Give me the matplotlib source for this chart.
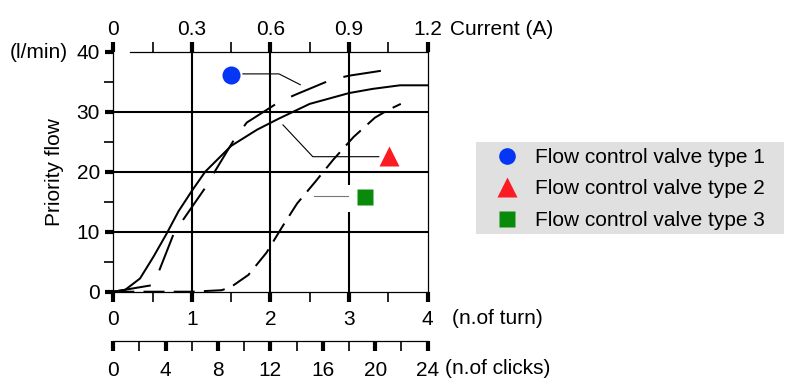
import numpy as np
import matplotlib.pyplot as plt
from matplotlib.lines import Line2D
from matplotlib.patches import Rectangle

plt.rcParams['font.family'] = ['Liberation Sans', 'DejaVu Sans']
plt.rcParams['font.size'] = 15

# flow curves: x = number of turns, y = priority flow (l/min)
turns_1 = [0, 0.5, 0.59, 0.77, 0.9, 1.18, 1.3, 1.55, 1.7, 2.12, 2.33, 2.77, 3.0, 3.5]
flow_1 = [0, 1.1, 3.7, 9.7, 12.2, 17.5, 20.2, 25.6, 28.2, 31.7, 32.9, 35.3, 36.0, 37.0]

turns_2 = [0, 0.15, 0.34, 0.51, 0.68, 0.83, 1.0, 1.17, 1.5, 1.83, 2.1, 2.5, 3.0, 3.3, 3.65, 4.0]
flow_2 = [0, 0.3, 2.2, 5.8, 9.7, 13.4, 16.8, 20.0, 24.3, 27.0, 28.8, 31.3, 33.1, 33.8, 34.4, 34.4]

turns_3 = [0, 1.0, 1.38, 1.5, 1.72, 1.95, 2.15, 2.34, 2.57, 2.8, 3.06, 3.33, 3.5, 3.66]
flow_3 = [0, 0, 0.25, 0.8, 2.8, 6.5, 10.8, 14.7, 18.3, 22.0, 25.8, 29.0, 30.3, 31.3]

labels = ['Flow control valve type 1', 'Flow control valve type 2', 'Flow control valve type 3']
colors = ['#0536f5', '#fa1b23', '#0a8a0a']
markers = ['o', '^', 's']
marker_turns = [1.50, 3.51, 3.21]
marker_flow = [36.1, 22.6, 15.8]

# leader lines from markers to curves
leader_turns = [[1.65, 2.11, 2.38], [3.38, 2.54, 2.16], [2.55, 2.99]]
leader_flow = [[36.3, 36.3, 34.5], [22.5, 22.5, 27.8], [16.0, 16.0]]
leader_colors = ['black', 'black', '#777777']

W, H = 792, 379
fig = plt.figure(figsize=(W / 100, H / 100), dpi=100)
ax = fig.add_axes([113.3 / W, 1 - 291.7 / H, 314.2 / W, 240 / H])

ax.set_xlim(0, 4)
ax.set_ylim(0, 40)

# grid
for g in [1, 2, 3]:
    ax.axvline(g, color='black', lw=1.5, zorder=1)
for g in [10, 20, 30]:
    ax.axhline(g, color='black', lw=1.5, zorder=1)

# white gap behind the type 3 marker
ax.add_patch(Rectangle((2.96, 13.3), 0.08, 4.5, facecolor='white', edgecolor='none', zorder=1.5))

ax.plot(turns_1, flow_1, color='black', lw=1.44, ls=(0, (19, 9)), clip_on=False, zorder=3)
ax.plot(turns_2, flow_2, color='black', lw=1.44, ls='-', clip_on=False, zorder=3)
ax.plot(turns_3, flow_3, color='black', lw=1.44, ls=(0, (10.5, 4.6)), clip_on=False, zorder=3)

for lx, ly, lc in zip(leader_turns, leader_flow, leader_colors):
    ax.plot(lx, ly, color=lc, lw=0.8, zorder=3)

sizes = [13, 14.4, 11.5]
for mx, my, m, c, s in zip(marker_turns, marker_flow, markers, colors, sizes):
    ax.plot(mx, my, marker=m, color=c, ms=s, mec='none', ls='none', zorder=4)

# spines
for s in ['left', 'right', 'bottom']:
    ax.spines[s].set_linewidth(0.9)
ax.spines['top'].set_visible(False)

ax.set_xticks([0, 1, 2, 3, 4])
ax.set_xticks(np.arange(0.5, 4, 1.0), minor=True)
ax.set_yticks([0, 10, 20, 30, 40])
ax.set_yticks([5, 15, 25, 35], minor=True)
ax.tick_params(axis='x', which='major', direction='out', length=7.2, width=3, pad=6)
ax.tick_params(axis='x', which='minor', direction='out', length=7.2, width=1.2)
ax.tick_params(axis='y', which='major', direction='out', length=6, width=3, pad=3.6)
ax.tick_params(axis='y', which='minor', direction='out', length=6.5, width=1.2)

# top axis: current
top = ax.secondary_xaxis('top', functions=(lambda t: t * 0.3, lambda c: c / 0.3))
top.set_xticks([0, 0.3, 0.6, 0.9, 1.2], ['0', '0.3', '0.6', '0.9', '1.2'])
top.set_xticks(np.arange(0.15, 1.2, 0.3), minor=True)
top.tick_params(which='major', direction='out', length=7.2, width=3, pad=2.3)
top.tick_params(which='minor', direction='out', length=7.2, width=1.2)
top.spines['top'].set_linewidth(0.9)
top.spines['top'].set_bounds(0.064, 1.2)

# lower axis: clicks
clicks = ax.secondary_xaxis(-0.2054, functions=(lambda t: t * 6, lambda c: c / 6))
clicks.set_xticks([0, 4, 8, 12, 16, 20, 24])
clicks.set_xticks([2, 6, 10, 14, 18, 22], minor=True)
clicks.tick_params(which='major', direction='out', length=7.2, width=3, pad=7)
clicks.tick_params(which='minor', direction='out', length=7.2, width=1.2)
clicks.spines['bottom'].set_linewidth(0.9)

fig.text(10 / W, 1 - 52 / H, '(l/min)', ha='left', va='center')
fig.text(55 / W, 1 - 172 / H, 'Priority flow', rotation=90, ha='center', va='center')
fig.text(450 / W, 1 - 29.5 / H, 'Current (A)', ha='left', va='center')
fig.text(451.7 / W, 1 - 319 / H, '(n.of turn)', ha='left', va='center')
fig.text(445 / W, 1 - 369 / H, '(n.of clicks)', ha='left', va='center')

# legend on a grey panel
fig.patches.append(Rectangle((476 / W, 1 - 234 / H), 308 / W, 92 / H, transform=fig.transFigure,
                             facecolor='#e0e0e0', edgecolor='none', zorder=0))
handles = [Line2D([], [], ls='none', marker=m, color=c, mec='none', ms=s)
           for m, c, s in zip(markers, colors, [12, 14, 11.5])]
fig.legend(handles, labels, loc='upper left', bbox_to_anchor=(491.7 / W, 1 - 148 / H),
           frameon=False, borderpad=0, borderaxespad=0, handlelength=1.5,
           handletextpad=0.58, labelspacing=0.6, fontsize=15)

fig.savefig('out.png', dpi=100)
